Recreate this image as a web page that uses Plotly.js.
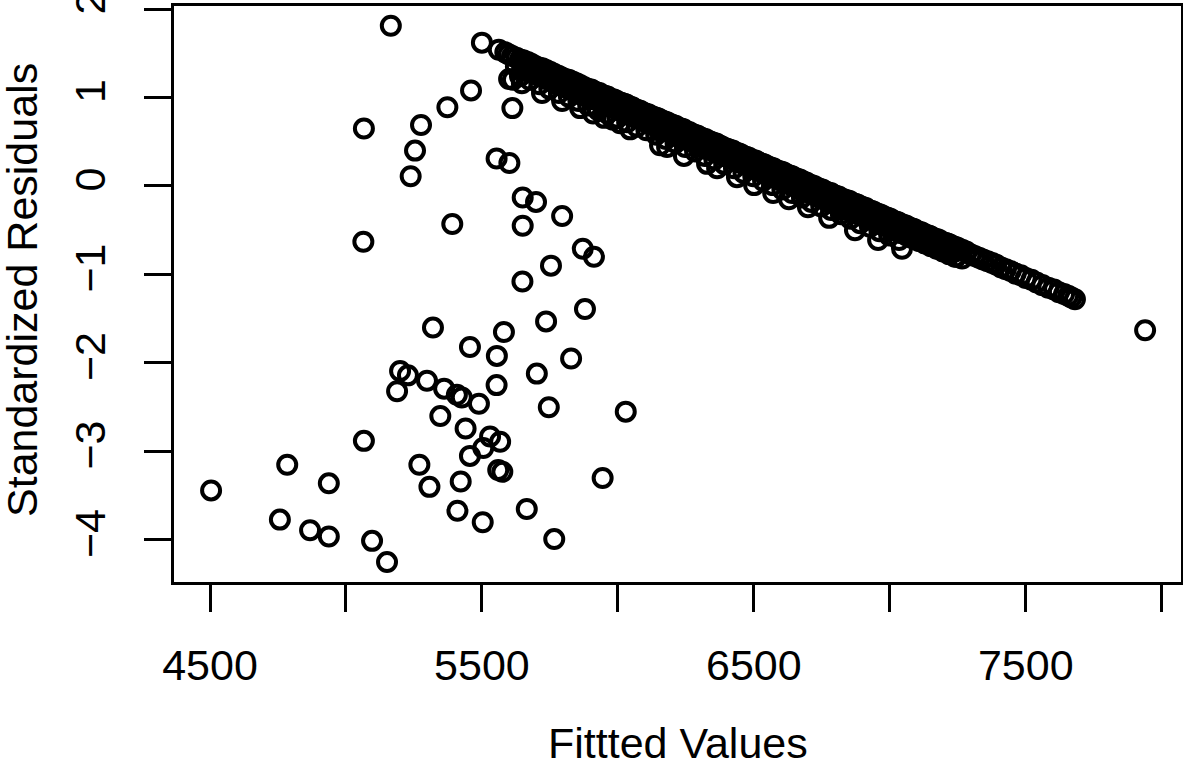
<!DOCTYPE html>
<html><head><meta charset="utf-8">
<script src="https://cdn.plot.ly/plotly-3.0.1.min.js"></script>
<style>html,body{margin:0;padding:0;background:#fff}</style>
</head><body><div id="chart" style="width:1183px;height:765px"></div>
<script>
// Isolated points
const scatterFitted = [5165,5500,5066,5276,5373,5460,5254,5238,5064,5391,5612,5554,5601,5650,5699,5650,5795,5754,5871,5912,5649,5736,5879,5320,5581,5456,5555,5828,7939,5199,5228,5188,5298,5361,5408,5426,5489,5554,5702,5746,6029,5347,5440,5066,5530,5567,5505,5456,5270,4784,4937,4504,5307,5422,5560,5575,5944,5410,5503,5665,4757,4868,4937,5096,5766,5151];
const scatterResid = [1.81,1.62,0.65,0.69,0.89,1.08,0.40,0.11,-0.63,-0.43,0.88,0.31,0.26,-0.13,-0.18,-0.45,-0.34,-0.90,-0.71,-0.80,-1.08,-1.53,-1.39,-1.60,-1.65,-1.82,-1.92,-1.95,-1.63,-2.09,-2.14,-2.32,-2.20,-2.29,-2.36,-2.39,-2.46,-2.25,-2.12,-2.50,-2.55,-2.60,-2.74,-2.88,-2.83,-2.89,-2.96,-3.05,-3.15,-3.15,-3.36,-3.44,-3.40,-3.34,-3.21,-3.23,-3.30,-3.67,-3.80,-3.65,-3.77,-3.89,-3.96,-4.01,-3.99,-4.25];

// Dense band: upper edge
const mainFitted = [5562,5586,5598,5611,5627,5640,5652,5668,5681,5694,5709,5722,5736,5750,5763,5779,5792,5806,5819,5833,5848,5861,5875,5889,5902,
5912,5921,5932,5941,5952,5962,5971,5983,5992,6003,6012,6023,6031,6042,6053,6062,6073,6082,6093,6101,6112,6123,6132,6142,6151,6163,6172,6181,6193,6202,6212,6221,6233,6242,6251,6262,6273,6281,6292,6303,6311,6322,6333,6342,6351,6362,6372,6381,6393,6402,6411,6422,6431,6443,6452,6461,6472,6482,6491,6503,6512,6521,6532,6541,6553,6562,6572,6581,6592,6603,6611,6622,6632,6641,6652,6663,6671,6682,6693,6702,6711,6722,6733,6741,6752,6762,6771,6783,6792,6801,6812,6822,6831,6843,6852,6861,6872,6881,6893,6902,6912,6921,6932,6941,6953,6962,6971,6983,6992,7002,7011,7022,7031,7042,7053,7061,7072,7083,7091,7102,7113,7121,7132,7143,7151,7162,7173,7182,7191,7203,7212,7221,7233,7242,7251,
7266,7281,7297,7312,7328,7343,7360,7377,7392,7410,7427,7445,7463,7482,7500,7521,7540,7561,7583,7604,7622,7641,7656,7668,7681];
const mainResid = [1.54,1.51,1.49,1.47,1.45,1.43,1.42,1.40,1.38,1.36,1.34,1.33,1.31,1.29,1.27,1.25,1.23,1.21,1.20,1.18,1.16,1.14,1.12,1.10,1.09,
1.07,1.06,1.05,1.03,1.02,1.01,0.99,0.98,0.97,0.95,0.94,0.93,0.92,0.90,0.89,0.87,0.86,0.85,0.83,0.82,0.81,0.79,0.78,0.77,0.76,0.74,0.73,0.72,0.70,0.69,0.68,0.66,0.65,0.64,0.62,0.61,0.59,0.58,0.57,0.55,0.54,0.53,0.51,0.50,0.49,0.48,0.46,0.45,0.43,0.42,0.41,0.40,0.38,0.37,0.36,0.34,0.33,0.32,0.30,0.29,0.28,0.26,0.25,0.24,0.22,0.21,0.20,0.18,0.17,0.16,0.15,0.13,0.12,0.11,0.09,0.08,0.07,0.05,0.04,0.02,0.01,0.00,-0.02,-0.03,-0.04,-0.06,-0.07,-0.08,-0.10,-0.11,-0.12,-0.14,-0.15,-0.16,-0.17,-0.19,-0.20,-0.21,-0.23,-0.24,-0.25,-0.27,-0.28,-0.29,-0.31,-0.32,-0.33,-0.35,-0.36,-0.37,-0.39,-0.40,-0.41,-0.43,-0.44,-0.45,-0.47,-0.48,-0.49,-0.51,-0.52,-0.53,-0.55,-0.56,-0.57,-0.59,-0.60,-0.61,-0.63,-0.64,-0.65,-0.66,-0.68,-0.69,-0.70,
-0.72,-0.74,-0.77,-0.79,-0.81,-0.83,-0.85,-0.87,-0.89,-0.92,-0.94,-0.96,-0.99,-1.01,-1.04,-1.06,-1.09,-1.12,-1.15,-1.17,-1.20,-1.22,-1.24,-1.26,-1.28];

// Dense band: row just below the upper edge
const band5Fitted = [5660,5683,5705,5727,5750,5772,5794,5816,5839,5861,5883,5905,5928,5950,5972,5994,6017,6039,6061,6083,6106,6128,6150,6172,6195,6217,6239,6261,6284,6306,6328,6350,6373,6395,6417,6439,6462,6484,6506,6528,6551,6573,6595,6617,6640,6662,6684,6706,6729,6751,6773,6795,6818,6840,6862,6884,6907,6929,6951,6973,6996,7018,7040,7062,7085,7107,7129,7151,7174,7196,7218,7240];
const band5Resid = [1.36,1.33,1.30,1.27,1.24,1.21,1.18,1.15,1.12,1.09,1.06,1.03,1.00,0.97,0.94,0.91,0.88,0.85,0.83,0.80,0.77,0.74,0.71,0.68,0.65,0.62,0.59,0.56,0.53,0.50,0.47,0.44,0.41,0.38,0.35,0.32,0.29,0.26,0.23,0.21,0.17,0.15,0.12,0.09,0.06,0.03,0.00,-0.03,-0.06,-0.09,-0.12,-0.15,-0.18,-0.21,-0.24,-0.27,-0.30,-0.33,-0.36,-0.39,-0.42,-0.45,-0.47,-0.50,-0.53,-0.56,-0.59,-0.62,-0.65,-0.68,-0.71,-0.74];

// Dense band: second row
const band2Fitted = [5625,5648,5671,5690,5712,5735,5756,5778,5801,5822,5844,5867,5889,5910,5933,5955,5978,6000,6021,6044,6066,6089,6110,6133,6155,6177,6200,6222,6244,6266,6289,6311,6333,6355,6378,6400,6422,6445,6466,6489,6511,6533,6555,6578,6600,6622,6644,6667,6689,6711,6733,6756,6778,6800,6822,6845,6867,6889,6911,6933,6956,6978,7000,7022,7044,7067,7089,7111,7133,7156,7178,7200,7222,7245,7266];
const band2Resid = [1.35,1.32,1.29,1.27,1.24,1.21,1.18,1.15,1.12,1.09,1.06,1.03,1.00,0.98,0.95,0.92,0.89,0.86,0.83,0.80,0.77,0.74,0.71,0.68,0.65,0.62,0.59,0.56,0.53,0.50,0.47,0.44,0.41,0.39,0.35,0.33,0.30,0.27,0.24,0.21,0.18,0.15,0.12,0.09,0.06,0.03,0.00,-0.03,-0.06,-0.09,-0.12,-0.15,-0.18,-0.21,-0.24,-0.27,-0.29,-0.32,-0.35,-0.38,-0.41,-0.44,-0.47,-0.50,-0.53,-0.56,-0.59,-0.62,-0.65,-0.68,-0.71,-0.74,-0.77,-0.80,-0.82];

// Dense band: intermediate row
const band4Fitted = [5905,5927,5950,5972,5994,6016,6039,6061,6083,6105,6128,6150,6172,6194,6217,6239,6261,6283,6306,6328,6350,6372,6395,6417,6439,6461,6484,6506,6528,6550,6573,6595,6617,6639,6662,6684,6706,6728,6751,6773,6795,6817,6840,6862,6884,6906,6929,6951,6973,6995,7018,7040,7062,7084,7107,7129,7151,7173,7196,7218,7240];
const band4Resid = [1.00,0.97,0.94,0.91,0.88,0.85,0.82,0.79,0.76,0.73,0.70,0.67,0.64,0.61,0.58,0.55,0.52,0.49,0.46,0.43,0.40,0.37,0.34,0.31,0.28,0.25,0.22,0.19,0.16,0.13,0.10,0.07,0.04,0.01,-0.02,-0.05,-0.08,-0.11,-0.14,-0.17,-0.20,-0.23,-0.26,-0.29,-0.32,-0.35,-0.38,-0.41,-0.44,-0.47,-0.50,-0.53,-0.56,-0.59,-0.62,-0.65,-0.68,-0.71,-0.74,-0.77,-0.80];

// Dense band: third row
const band3Fitted = [5640,5676,5712,5748,5783,5820,5855,5891,5927,5962,5998,6034,6070,6105,6141,6177,6212,6248,6284,6320,6355,6391,6427,6462,6498,6534,6570,6605,6641,6677,6712,6748,6784,6820,6855,6891,6927,6962,6998,7034];
const band3Resid = [1.24,1.20,1.15,1.10,1.05,1.01,0.96,0.91,0.86,0.82,0.77,0.72,0.67,0.63,0.58,0.53,0.49,0.44,0.39,0.34,0.30,0.25,0.20,0.15,0.11,0.06,0.01,-0.04,-0.08,-0.13,-0.18,-0.23,-0.27,-0.32,-0.37,-0.42,-0.46,-0.51,-0.56,-0.61];

// Dense band: lower row of separate circles
const lowerFitted = [5600,5614,5647,5721,5795,5861,5909,5949,5982,6008,6045,6155,6181,6243,6328,6365,6438,6501,6571,6629,6699,6777,6872,6957,7045];
const lowerResid = [1.21,1.20,1.16,1.05,0.96,0.88,0.82,0.77,0.75,0.71,0.64,0.46,0.44,0.34,0.25,0.20,0.10,0.01,-0.08,-0.15,-0.24,-0.36,-0.50,-0.61,-0.71];

const xTickVals = [4500,5000,5500,6000,6500,7000,7500,8000];
const xTickText = ['4500','','5500','','6500','','7500',''];
const yTickVals = [-4,-3,-2,-1,0,1,2];
const yTickText = ['\u22124','\u22123','\u22122','\u22121','0','1','2'];
const xTitle = 'Fittted Values';
const yTitle = 'Standardized Residuals';

const fitted = [].concat(mainFitted, band5Fitted, band2Fitted, band4Fitted, band3Fitted, lowerFitted, scatterFitted);
const resid = [].concat(mainResid, band5Resid, band2Resid, band4Resid, band3Resid, lowerResid, scatterResid);

const FONT = 'Liberation Sans, Arial, Helvetica, sans-serif';
const trace = {
  type: 'scatter', mode: 'markers', x: fitted, y: resid, cliponaxis: false,
  marker: {symbol: 'circle-open', size: 18, color: '#000', line: {width: 4, color: '#000'}},
  hoverinfo: 'x+y', showlegend: false
};
const axisCommon = {
  showgrid: false, zeroline: false, showline: true, mirror: true,
  linecolor: '#000', linewidth: 3, ticks: 'outside', ticklen: 27, tickwidth: 3, tickcolor: '#000',
  tickfont: {family: FONT, size: 43, color: '#000'}, automargin: false, fixedrange: true,
  ticklabeloverflow: 'allow'
};
const layout = {
  width: 1183, height: 765,
  margin: {l: 174, r: 2, t: 6, b: 183, pad: 0},
  paper_bgcolor: '#fff', plot_bgcolor: '#fff',
  font: {family: FONT, color: '#000'},
  xaxis: Object.assign({}, axisCommon, {
    range: [4367.6, 8071], tickmode: 'array', tickvals: xTickVals, ticktext: xTickText,
    ticklabelstandoff: 16
  }),
  yaxis: Object.assign({}, axisCommon, {
    range: [-4.475, 2.034], tickmode: 'array', tickvals: yTickVals, ticktext: yTickText,
    tickangle: -90, ticklabelstandoff: 22
  }),
  annotations: [
    {text: xTitle, xref: 'paper', yref: 'paper', x: 0.5, y: 0, xanchor: 'center', yanchor: 'middle',
     yshift: -161, showarrow: false, font: {family: FONT, size: 43, color: '#000'}},
    {text: yTitle, xref: 'paper', yref: 'paper', x: 0, y: 0.5, xanchor: 'center', yanchor: 'middle',
     xshift: -152, yshift: 4, textangle: -90, showarrow: false, font: {family: FONT, size: 43, color: '#000'}}
  ]
};
Plotly.newPlot('chart', [trace], layout, {staticPlot: false, displayModeBar: false});
</script></body></html>
